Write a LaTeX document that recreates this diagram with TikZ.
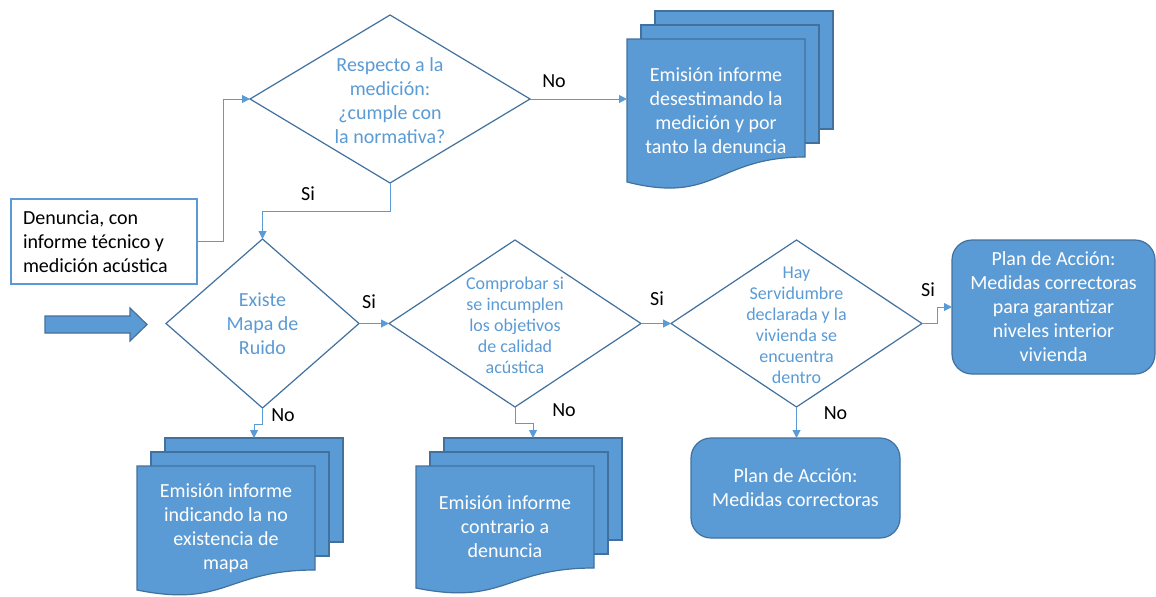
\documentclass[tikz,border=0pt]{standalone}
\usepackage{fontspec}
\setmainfont{Carlito}
\usetikzlibrary{arrows.meta,shapes,calc,positioning,backgrounds}
\definecolor{boxblue}{HTML}{5B9BD5}
\definecolor{edgeblue}{HTML}{41719C}
\tikzset{
	decision/.style={diamond,draw=edgeblue,line width=0.9pt,fill=white,inner sep=0pt,outer sep=0pt},
	decisiontext/.style={text=boxblue,align=center,inner sep=0pt,font=\fontsize{15}{18}\selectfont},
	smalltext/.style={text=boxblue,align=center,inner sep=0pt,font=\fontsize{13.5}{15.75}\selectfont},
	docfront/.style={text=white,align=center,minimum width=133.5pt,inner sep=0pt,outer sep=0pt,font=\fontsize{15}{18}\selectfont},
	pagesheet/.style={fill=boxblue,draw=edgeblue,line width=0.9pt},
	planbox/.style={rectangle,rounded corners=15pt,fill=boxblue,draw=edgeblue,line width=0.9pt,outer sep=0pt,text=white,align=center,font=\fontsize{15}{18}\selectfont},
	flow/.style={draw=boxblue,line width=0.75pt,-{Triangle[length=6pt,width=6pt]}},
	answer/.style={text=black,inner sep=0pt,font=\fontsize{15}{18}\selectfont},
}
\newcommand{\docstack}[2]{%
	\begin{scope}[on background layer]
		\draw[pagesheet] ($(#1.north west)+(28,28)$) rectangle ($(#1.south east)+(28,#2+28)$);
		\draw[pagesheet] ($(#1.north west)+(14,14)$) rectangle ($(#1.south east)+(14,#2+14)$);
		\draw[pagesheet] (#1.north west) -- (#1.north east) -- ($(#1.south east)+(0,#2)$) .. controls ($(#1.south)+(0,#2)$) and ($(#1.south)+(0,-0.9*#2)$) .. (#1.south west) -- cycle;
	\end{scope}
}
\begin{document}
\begin{tikzpicture}[x=0.75pt,y=0.75pt]
	\useasboundingbox (0,0) rectangle (1156,-596);
	\node (d1) at (390,-99) [decision,minimum width=210pt,minimum height=126pt] {};
	\node (d1t) at (390,-101) [decisiontext] {Respecto a la\\medición:\\¿cumple con\\la normativa?};
	\node (d2) at (262.5,-323.5) [decision,minimum width=144.75pt,minimum height=126.75pt] {};
	\node (d2t) at (d2) [decisiontext] {Existe\\Mapa de\\Ruido};
	\node (d3) at (515,-323.5) [decision,minimum width=189pt,minimum height=125.25pt] {};
	\node (d3t) at ($(d3)+(0,-1.5)$) [smalltext] {Comprobar si\\se incumplen\\los objetivos\\de calidad\\acústica};
	\node (d4) at (796.5,-323.5) [decision,minimum width=188.25pt,minimum height=125.25pt] {};
	\node (d4t) at ($(d4)+(0,-2)$) [smalltext] {Hay\\Servidumbre\\declarada y la\\vivienda se\\encuentra\\dentro};
	\node (inbox) at (104,-241.5) [draw=boxblue,line width=0.9pt,outer sep=0pt,minimum width=139.5pt,minimum height=63.75pt,text width=121.5pt,align=flush left,font=\fontsize{15}{18}\selectfont] {Denuncia, con\\informe técnico y\\medición acústica};
	\node (plan1) at (1053.5,-307) [planbox,minimum width=152.25pt,minimum height=100.5pt] {Plan de Acción:\\Medidas correctoras\\para garantizar\\niveles interior\\vivienda};
	\node (plan2) at (795.5,-488) [planbox,minimum width=156.75pt,minimum height=75pt] {Plan de Acción:\\Medidas correctoras};
	\node (doc1) at (716,-110.5) [docfront,minimum height=107.25pt] {Emisión informe\\desestimando la\\medición y por\\tanto la denuncia};
	\node (doc2) at (226,-528) [docfront,minimum height=93pt] {Emisión informe\\indicando la no\\existencia de\\mapa};
	\node (doc3) at (505,-527) [docfront,minimum height=91.5pt] {Emisión informe\\contrario a\\denuncia};
	\docstack{doc1}{25}
	\docstack{doc2}{20}
	\docstack{doc3}{20}
	\draw[pagesheet] (45,-316) -- (130,-316) -- (130,-308) -- (147,-324.5) -- (130,-341) -- (130,-333) -- (45,-333) -- cycle;
	\draw[flow] (inbox.east) -- ++(26,0) |- (d1.west);
	\draw[flow] (d1.east) -- (d1.east -| doc1.west);
	\draw[flow] (d1.south) -- ++(0,-28) -| (d2.north);
	\draw[flow] (d2.east) -- (d3.west);
	\draw[flow] (d3.east) -- (d4.west);
	\draw[flow] (d4.east) -- ++(15,0) |- (plan1.west);
	\draw[flow] (d4.south) -- (d4.south |- plan2.north);
	\draw[flow] (d2.south) -- ++(0,-16) -| ($(doc2.north)+(28,28)$);
	\draw[flow] (d3.south) -- ++(0,-16) -| ($(doc3.north)+(28,28)$);
	\node (no1) at ($(d1.east)+(24,18)$) [answer] {No};
	\node (si1) at ($(d1.south)+(-82,-11)$) [answer] {Si};
	\node (si2) at ($(d2.east)+(10,21.5)$) [answer] {Si};
	\node (no2) at ($(d2.south)+(20.5,-7)$) [answer] {No};
	\node (si3) at ($(d3.east)+(16,24.5)$) [answer] {Si};
	\node (no3) at ($(d3.south)+(49,-3)$) [answer] {No};
	\node (si4) at ($(d4.east)+(6,33.5)$) [answer] {Si};
	\node (no4) at ($(d4.south)+(39,-6)$) [answer] {No};
\end{tikzpicture}
\end{document}
